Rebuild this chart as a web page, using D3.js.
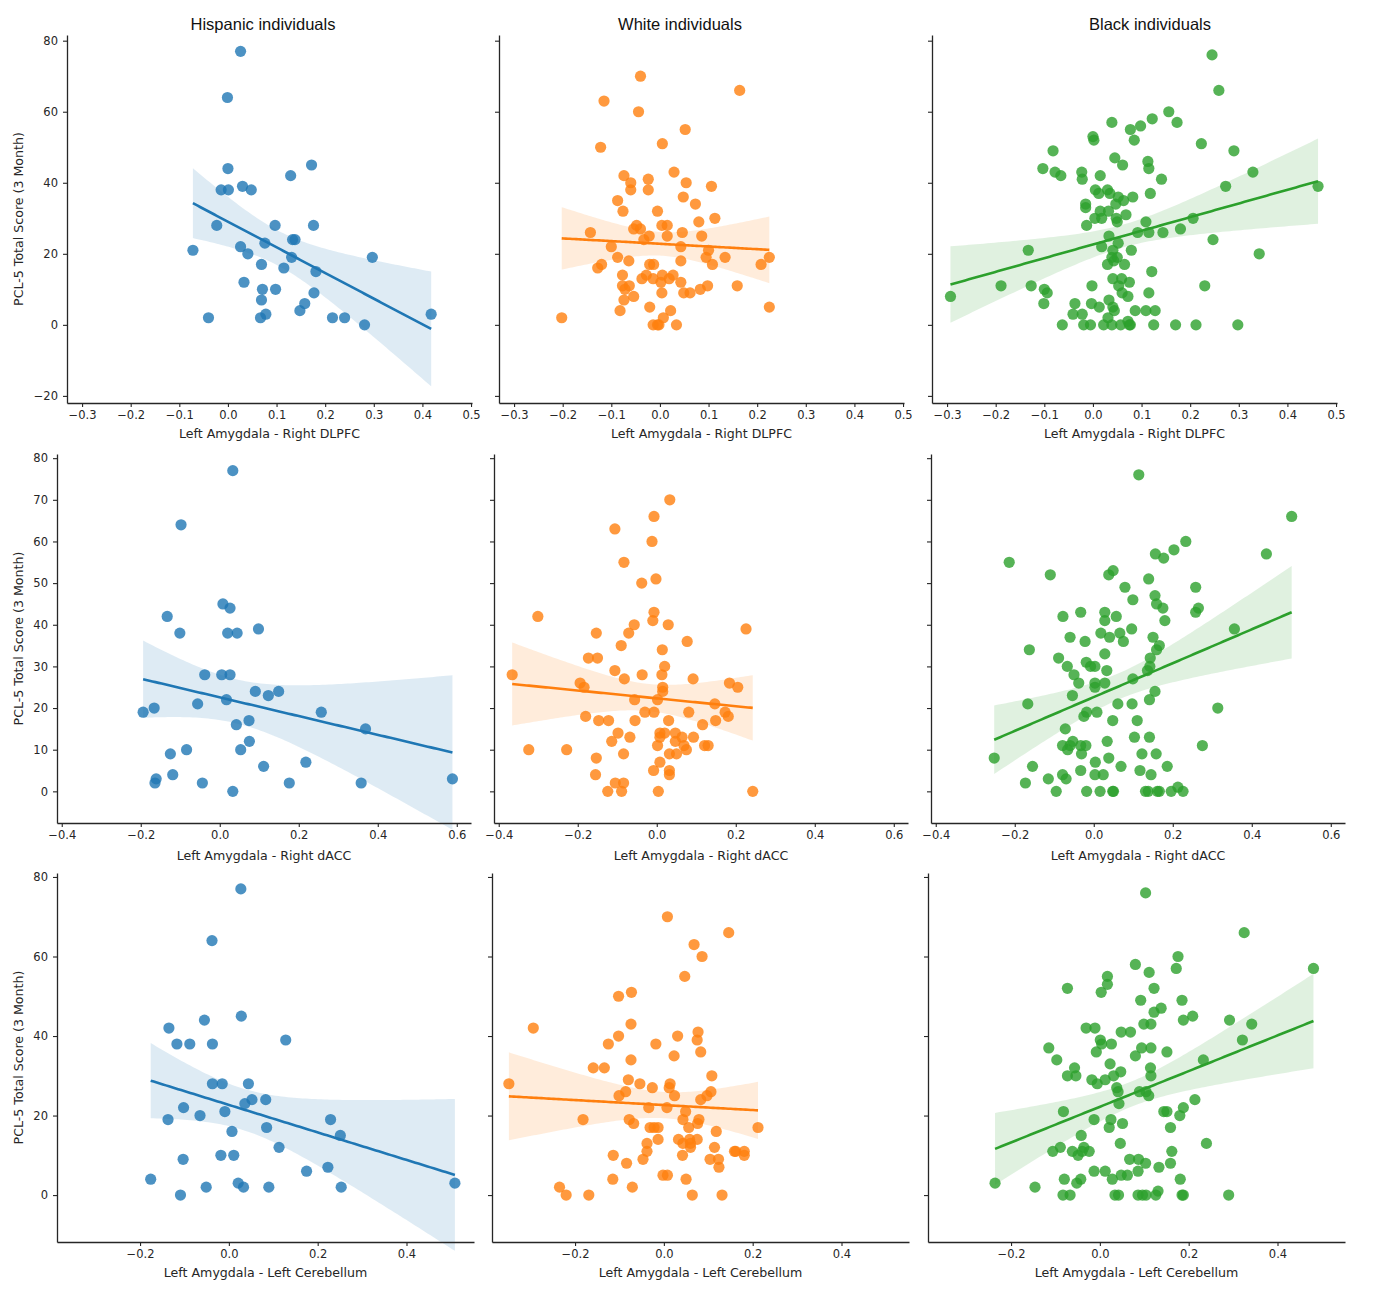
<!DOCTYPE html>
<html>
<head>
<meta charset="utf-8">
<script src="https://cdn.jsdelivr.net/npm/d3@7"></script>
<style>
  body { margin: 0; background: #fff; }
  svg { display: block; }
</style>
</head>
<body>
<svg id="chart" width="1376" height="1300"></svg>
<script>
// column titles and axis labels
const groups = ["Hispanic individuals", "White individuals", "Black individuals"];
const xLabels = ["Left Amygdala - Right DLPFC", "Left Amygdala - Right dACC", "Left Amygdala - Left Cerebellum"];
const yLabel = "PCL-5 Total Score (3 Month)";

// tick values
const xTicksDlpfc = [-0.3, -0.2, -0.1, 0.0, 0.1, 0.2, 0.3, 0.4, 0.5];
const xTicksDacc = [-0.4, -0.2, 0.0, 0.2, 0.4, 0.6];
const xTicksCereb = [-0.2, 0.0, 0.2, 0.4];
const yTicksDlpfc = [-20, 0, 20, 40, 60, 80];
const yTicksDacc = [0, 10, 20, 30, 40, 50, 60, 70, 80];
const yTicksCereb = [0, 20, 40, 60, 80];

// [connectivity, PCL-5] pairs
const hispDlpfc = [[0.026,77],[-0.001,64],[0.0,44],[0.172,45],[0.129,42],[-0.014,38],[0.001,38],[0.030,39],[0.048,38],[-0.023,28],[0.097,28],[0.176,28],[0.133,24],[0.138,24],[-0.072,21],[0.026,22],[0.076,23],[0.041,20],[0.131,19],[0.297,19],[0.069,17],[0.115,16],[0.181,15],[0.033,12],[0.071,10],[0.098,10],[0.177,9],[0.069,7],[0.158,6],[0.148,4],[0.078,3],[0.067,2],[-0.040,2],[0.215,2],[0.240,2],[0.281,0],[0.418,3]];

const whiteDlpfc = [[-0.040,70],[0.164,66],[-0.115,63],[-0.044,60],[0.052,55],[0.005,51],[-0.122,50],[0.029,43],[-0.074,42],[-0.024,41],[-0.060,40],[0.054,40],[0.106,39],[-0.060,38],[-0.024,38],[0.048,36],[-0.087,35],[0.073,34],[-0.076,32],[-0.005,32],[0.113,30],[0.080,29],[-0.048,28],[0.004,28],[0.015,28],[-0.054,27],[-0.040,27],[-0.143,26],[0.046,26],[-0.022,25],[0.015,25],[0.086,25],[-0.033,24],[-0.100,22],[0.043,22],[0.100,21],[-0.087,19],[-0.064,18],[0.043,18],[0.095,19],[0.134,19],[0.225,19],[-0.120,17],[-0.128,16],[-0.021,17],[-0.013,17],[0.108,17],[0.208,17],[-0.077,14],[-0.037,13],[-0.028,14],[-0.014,13],[0.005,14],[0.019,13],[0.027,14],[0.002,12],[0.043,12],[-0.077,11],[-0.063,11],[-0.072,10],[0.098,11],[0.083,10],[0.159,11],[0.049,9],[0.062,9],[0.004,9],[-0.054,8],[-0.074,7],[-0.021,5],[0.022,4],[0.225,5],[-0.082,4],[0.007,2],[-0.202,2],[-0.014,0],[-0.005,0],[-0.002,0],[0.034,0]];

const blackDlpfc = [[0.245,76],[0.259,66],[0.156,60],[0.039,57],[0.122,58],[0.173,57],[0.077,55],[0.098,56],[0.0,53],[0.002,52],[0.085,52],[0.223,51],[-0.082,49],[0.290,49],[0.045,47],[0.113,46],[0.061,45],[0.115,44],[-0.103,44],[-0.078,43],[-0.066,42],[-0.023,43],[0.015,42],[0.329,43],[-0.022,41],[0.141,41],[0.273,39],[0.463,39],[0.005,38],[0.030,38],[0.012,37],[0.035,37],[0.052,36],[0.082,36],[0.118,37],[0.063,35],[0.047,34],[-0.015,34],[-0.015,33],[0.015,32],[0.032,32],[0.068,31],[0.004,30],[0.018,30],[0.048,30],[0.050,29],[0.109,29],[-0.013,28],[0.206,30],[0.180,27],[0.092,26],[0.115,26],[0.144,26],[0.033,25],[0.247,24],[0.052,23],[0.018,22],[-0.133,21],[0.041,21],[0.079,21],[0.342,20],[0.039,19],[0.050,19],[0.043,18],[0.030,17],[0.065,17],[0.121,15],[0.041,13],[0.059,13],[0.075,12],[0.053,11],[-0.002,11],[-0.189,11],[-0.127,11],[0.230,11],[-0.100,10],[-0.094,9],[0.060,9],[0.115,9],[0.072,8],[-0.293,8],[0.033,7],[-0.101,6],[-0.037,6],[-0.003,6],[0.041,5],[0.013,5],[0.044,4],[0.087,4],[0.109,4],[0.128,4],[-0.041,3],[-0.022,3],[0.031,2],[0.072,1],[-0.063,0],[-0.019,0],[-0.005,0],[0.022,0],[0.039,0],[0.057,0],[0.075,0],[0.077,0],[0.125,0],[0.170,0],[0.212,0],[0.298,0]];

const hispDacc = [[0.033,77],[-0.098,64],[0.008,45],[0.026,44],[-0.133,42],[-0.101,38],[0.020,38],[0.044,38],[0.098,39],[-0.038,28],[0.005,28],[0.026,28],[0.090,24],[0.123,23],[0.149,24],[0.017,22],[-0.056,21],[-0.166,20],[-0.194,19],[0.257,19],[0.074,17],[0.042,16],[0.369,15],[0.075,12],[-0.084,10],[0.053,10],[-0.125,9],[0.218,7],[0.111,6],[-0.119,4],[-0.161,3],[-0.164,2],[-0.044,2],[0.176,2],[0.358,2],[0.589,3],[0.033,0]];

const whiteDacc = [[0.033,70],[-0.007,66],[-0.106,63],[-0.012,60],[-0.083,55],[-0.002,51],[-0.038,50],[-0.301,42],[-0.007,43],[-0.010,41],[-0.057,40],[0.029,40],[0.226,39],[-0.153,38],[-0.071,38],[0.077,36],[-0.090,35],[0.014,34],[-0.173,32],[-0.150,32],[0.020,30],[-0.106,29],[0.013,28],[-0.037,28],[-0.082,27],[0.092,27],[-0.366,28],[-0.194,26],[-0.184,25],[0.015,25],[0.015,24],[0.184,26],[0.205,25],[-0.056,22],[0.002,22],[0.147,21],[-0.030,19],[-0.007,19],[0.081,19],[-0.180,18],[0.173,19],[0.181,18],[-0.147,17],[-0.122,17],[-0.055,17],[0.030,17],[0.149,17],[0.116,16],[-0.098,14],[0.008,14],[0.020,14],[0.047,14],[-0.068,13],[0.064,13],[0.093,13],[-0.114,12],[0.047,12],[0.008,13],[0.002,11],[0.069,11],[0.121,11],[0.130,11],[-0.324,10],[-0.228,10],[0.075,10],[-0.084,9],[0.032,9],[0.050,9],[-0.153,8],[0.008,7],[-0.008,5],[0.032,5],[0.032,4],[-0.155,4],[-0.105,2],[-0.084,2],[-0.124,0],[-0.089,0],[0.004,0],[0.243,0]];

const blackDacc = [[0.114,76],[0.501,66],[0.233,60],[0.203,58],[0.156,57],[0.177,56],[0.437,57],[-0.214,55],[0.049,53],[0.038,52],[-0.110,52],[0.139,51],[0.079,49],[0.258,49],[0.155,47],[0.099,46],[0.159,45],[0.175,44],[0.265,44],[0.258,43],[-0.078,42],[-0.033,43],[0.028,43],[0.057,42],[0.028,41],[0.180,41],[0.096,39],[0.356,39],[0.018,38],[0.066,38],[-0.060,37],[0.040,37],[0.150,37],[-0.022,36],[0.075,36],[0.166,35],[-0.163,34],[0.159,34],[0.028,33],[0.143,32],[-0.089,32],[-0.019,31],[-0.067,30],[-0.008,30],[0.003,30],[0.142,30],[0.033,29],[0.136,29],[-0.050,28],[0.099,27],[-0.038,26],[0.003,26],[0.028,26],[0.003,25],[-0.054,23],[0.155,24],[0.141,22],[-0.167,21],[0.061,21],[0.097,21],[0.314,20],[-0.018,19],[0.008,19],[-0.025,18],[0.048,17],[0.110,17],[-0.072,15],[0.103,13],[0.141,13],[0.034,12],[-0.079,11],[-0.053,12],[-0.060,11],[-0.033,11],[-0.020,11],[0.275,11],[-0.066,10],[-0.031,9],[0.122,9],[0.158,9],[-0.252,8],[0.038,8],[0.004,7],[-0.155,6],[0.069,6],[0.186,6],[-0.033,5],[0.117,5],[-0.079,4],[0.003,4],[0.024,4],[0.145,4],[-0.070,3],[-0.115,3],[-0.173,2],[0.213,1],[-0.095,0],[-0.018,0],[0.016,0],[0.048,0],[0.050,0],[0.131,0],[0.138,0],[0.161,0],[0.196,0],[0.226,0],[0.166,0]];

const hispCereb = [[0.027,77],[-0.038,64],[0.028,45],[-0.055,44],[-0.135,42],[-0.117,38],[-0.088,38],[-0.037,38],[0.128,39],[-0.037,28],[-0.015,28],[0.044,28],[0.052,24],[0.083,24],[0.036,23],[-0.102,22],[-0.009,21],[-0.065,20],[-0.137,19],[0.229,19],[0.085,17],[0.007,16],[0.251,15],[0.113,12],[-0.018,10],[0.011,10],[-0.103,9],[0.223,7],[0.175,6],[-0.176,4],[0.021,3],[-0.051,2],[0.033,2],[0.090,2],[0.253,2],[0.509,3],[-0.109,0]];

const whiteCereb = [[0.008,70],[0.146,66],[0.068,63],[0.086,60],[0.047,55],[-0.073,51],[-0.102,50],[-0.074,43],[-0.294,42],[0.077,41],[0.031,40],[-0.102,40],[0.075,39],[-0.125,38],[-0.018,38],[0.083,36],[0.023,35],[-0.074,34],[-0.159,32],[-0.134,32],[0.108,30],[-0.080,29],[-0.349,28],[-0.054,28],[0.014,28],[0.012,27],[-0.026,27],[-0.086,26],[0.106,26],[0.097,25],[-0.101,25],[0.024,25],[0.083,24],[-0.034,22],[0.007,22],[0.049,21],[-0.182,19],[-0.078,19],[0.043,19],[0.079,19],[-0.068,18],[0.076,18],[-0.031,17],[-0.022,17],[-0.013,17],[0.056,17],[0.212,17],[0.118,16],[-0.013,14],[0.033,14],[0.058,14],[0.075,14],[0.043,13],[0.060,13],[-0.038,13],[0.060,12],[0.114,12],[-0.038,11],[0.159,11],[0.181,11],[0.162,11],[-0.114,10],[0.042,10],[0.181,10],[-0.047,9],[0.104,9],[0.123,9],[-0.084,8],[0.124,7],[-0.002,5],[0.008,5],[-0.115,4],[0.050,4],[-0.235,2],[-0.071,2],[-0.220,0],[-0.169,0],[0.064,0],[0.131,0]];

const blackCereb = [[0.103,76],[0.325,66],[0.176,60],[0.080,58],[0.172,57],[0.481,57],[0.111,56],[0.017,55],[0.017,53],[-0.073,52],[0.122,52],[0.003,51],[0.092,49],[0.185,49],[0.138,47],[0.122,46],[0.209,45],[0.188,44],[0.292,44],[0.342,43],[0.099,43],[0.115,43],[-0.031,42],[-0.011,42],[0.048,41],[0.069,41],[0.001,39],[0.321,39],[0.004,38],[0.026,38],[-0.115,37],[0.094,37],[0.115,37],[-0.008,36],[0.151,36],[0.080,35],[-0.097,34],[0.233,34],[0.023,33],[-0.057,32],[0.114,32],[0.047,31],[-0.073,30],[-0.054,30],[0.031,30],[0.115,30],[-0.018,29],[0.012,29],[-0.006,28],[0.038,27],[0.041,26],[0.089,26],[0.104,26],[0.110,25],[0.214,24],[0.043,23],[-0.082,21],[0.144,21],[0.151,21],[0.188,22],[-0.013,19],[0.025,19],[0.180,20],[0.051,18],[0.021,17],[0.159,17],[-0.042,15],[0.046,13],[0.240,13],[-0.089,12],[-0.036,12],[-0.106,11],[-0.062,11],[-0.024,11],[0.162,11],[-0.049,10],[-0.040,11],[0.067,9],[0.087,9],[0.103,8],[0.159,8],[0.133,7],[-0.013,6],[0.012,6],[0.086,6],[0.048,5],[0.062,5],[0.028,4],[-0.080,4],[-0.043,4],[0.181,4],[-0.236,3],[-0.052,3],[-0.146,2],[0.131,1],[-0.083,0],[-0.067,0],[0.034,0],[0.042,0],[0.086,0],[0.104,0],[0.126,0],[0.185,0],[0.188,0],[0.290,0],[0.096,0]];

const colors = ["#1f77b4", "#ff7f0e", "#2ca02c"];

// layout of the three rows (one figure per region)
const rows = [
  { data: [hispDlpfc, whiteDlpfc, blackDlpfc], lefts: [67, 499, 932], width: 405, top: 35, bottom: 403,
    xDomain: [-0.331, 0.502], yDomain: [-22, 81.6], xTicks: xTicksDlpfc, yTicks: yTicksDlpfc, labelY: 438 },
  { data: [hispDacc, whiteDacc, blackDacc], lefts: [57, 494, 931], width: 414, top: 454, bottom: 823,
    xDomain: [-0.412, 0.636], yDomain: [-7.6, 81], xTicks: xTicksDacc, yTicks: yTicksDacc, labelY: 860 },
  { data: [hispCereb, whiteCereb, blackCereb], lefts: [57, 492, 928], width: 417, top: 873, bottom: 1242,
    xDomain: [-0.387, 0.552], yDomain: [-11.8, 81], xTicks: xTicksCereb, yTicks: yTicksCereb, labelY: 1277 }
];
const titleX = [263, 680, 1150];

const svg = d3.select("#chart");
const ink = "#262626";
const tickFont = "'DejaVu Sans', sans-serif";

// least squares fit with a band for the mean
function fit(data) {
  const n = data.length;
  const mx = d3.mean(data, d => d[0]);
  const my = d3.mean(data, d => d[1]);
  const sxx = d3.sum(data, d => (d[0] - mx) ** 2);
  const sxy = d3.sum(data, d => (d[0] - mx) * (d[1] - my));
  const b = sxy / sxx;
  const a = my - b * mx;
  const s = Math.sqrt(d3.sum(data, d => (d[1] - a - b * d[0]) ** 2) / (n - 2));
  const [lo, hi] = d3.extent(data, d => d[0]);
  const xs = d3.range(0, 101).map(i => lo + (hi - lo) * i / 100);
  return xs.map(xv => {
    const yv = a + b * xv;
    const se = s * Math.sqrt(1 / n + (xv - mx) ** 2 / sxx);
    return { x: xv, y: yv, lo: yv - 1.8 * se, hi: yv + 1.8 * se };
  });
}

rows.forEach((row, r) => {
  row.data.forEach((data, c) => {
    const left = row.lefts[c];
    const x = d3.scaleLinear().domain(row.xDomain).range([left, left + row.width]);
    const y = d3.scaleLinear().domain(row.yDomain).range([row.bottom, row.top]);
    const g = svg.append("g");

    // scatter
    g.selectAll("circle")
      .data(data)
      .enter()
      .append("circle")
      .attr("cx", d => x(d[0]))
      .attr("cy", d => y(d[1]))
      .attr("r", 5.6)
      .attr("fill", colors[c])
      .attr("fill-opacity", 0.8);

    // regression band + line
    const est = fit(data);
    g.append("path")
      .datum(est)
      .attr("d", d3.area().x(d => x(d.x)).y0(d => y(d.lo)).y1(d => y(d.hi)))
      .attr("fill", colors[c])
      .attr("fill-opacity", 0.15);
    g.append("path")
      .datum(est)
      .attr("d", d3.line().x(d => x(d.x)).y(d => y(d.y)))
      .attr("fill", "none")
      .attr("stroke", colors[c])
      .attr("stroke-width", 2.6);

    // axes
    const xAxis = g.append("g")
      .attr("transform", `translate(0,${row.bottom})`)
      .call(d3.axisBottom(x).tickValues(row.xTicks).tickFormat(d3.format(".1f"))
        .tickSize(4).tickSizeOuter(0).tickPadding(4));
    const yAxis = g.append("g")
      .attr("transform", `translate(${left},0)`)
      .call(d3.axisLeft(y).tickValues(row.yTicks).tickFormat(c === 0 ? d3.format("d") : () => "")
        .tickSize(4).tickSizeOuter(0).tickPadding(5));
    [xAxis, yAxis].forEach(ax => {
      ax.select(".domain").attr("stroke", ink).attr("stroke-width", 1.3);
      ax.selectAll(".tick line").attr("stroke", ink).attr("stroke-width", 1.1);
      ax.selectAll(".tick text").attr("fill", ink)
        .style("font-family", tickFont).style("font-size", "11.5px");
    });

    // x label
    g.append("text")
      .attr("x", left + row.width / 2)
      .attr("y", row.labelY)
      .attr("text-anchor", "middle")
      .style("font-family", tickFont)
      .style("font-size", "12.6px")
      .attr("fill", ink)
      .text(xLabels[r]);

    if (c === 0) {
      g.append("text")
        .attr("transform", `translate(23,${(row.top + row.bottom) / 2}) rotate(-90)`)
        .attr("text-anchor", "middle")
        .style("font-family", tickFont)
        .style("font-size", "12.6px")
        .attr("fill", ink)
        .text(yLabel);
    }
    if (r === 0) {
      svg.append("text")
        .attr("x", titleX[c])
        .attr("y", 30)
        .attr("text-anchor", "middle")
        .style("font-family", "'Liberation Sans', Arial, sans-serif")
        .style("font-size", "16.5px")
        .attr("fill", "#111")
        .text(groups[c]);
    }
  });
});
</script>
</body>
</html>
